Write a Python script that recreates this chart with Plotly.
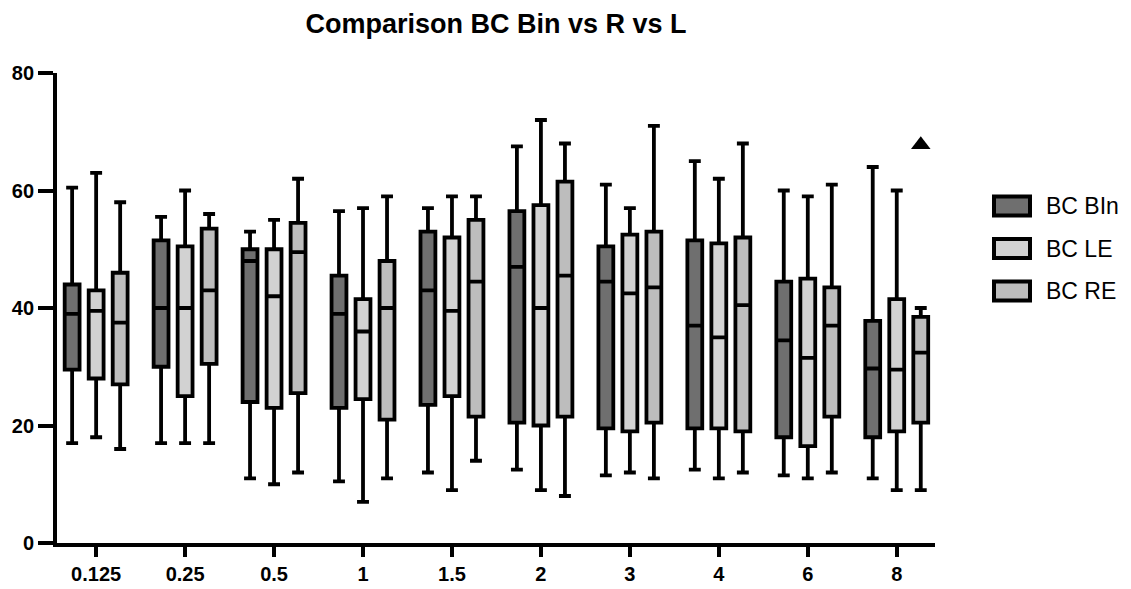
import plotly.graph_objects as go

categories = ["0.125", "0.25", "0.5", "1", "1.5", "2", "3", "4", "6", "8"]

series_names = ["BC BIn", "BC LE", "BC RE"]

bin_low = [17, 17, 11, 10.5, 12, 12.5, 11.5, 12.5, 11.5, 11]
bin_q1 = [29.5, 30, 24, 23, 23.5, 20.5, 19.5, 19.5, 18, 18]
bin_med = [39, 40, 48, 39, 43, 47, 44.5, 37, 34.5, 29.7]
bin_q3 = [44, 51.5, 50, 45.5, 53, 56.5, 50.5, 51.5, 44.5, 37.8]
bin_high = [60.5, 55.5, 53, 56.5, 57, 67.5, 61, 65, 60, 64]

le_low = [18, 17, 10, 7, 9, 9, 12, 11, 11, 9]
le_q1 = [28, 25, 23, 24.5, 25, 20, 19, 19.5, 16.5, 19]
le_med = [39.5, 40, 42, 36, 39.5, 40, 42.5, 35, 31.5, 29.5]
le_q3 = [43, 50.5, 50, 41.5, 52, 57.5, 52.5, 51, 45, 41.5]
le_high = [63, 60, 55, 57, 59, 72, 57, 62, 59, 60]

re_low = [16, 17, 12, 11, 14, 8, 11, 12, 12, 9]
re_q1 = [27, 30.5, 25.5, 21, 21.5, 21.5, 20.5, 19, 21.5, 20.5]
re_med = [37.5, 43, 49.5, 40, 44.5, 45.5, 43.5, 40.5, 37, 32.4]
re_q3 = [46, 53.5, 54.5, 48, 55, 61.5, 53, 52, 43.5, 38.5]
re_high = [58, 56, 62, 59, 59, 68, 71, 68, 61, 40]

# outlier of BC RE
re_outlier_cat = ["8"]
re_outlier_val = [67.8]

colors = ["#6f6f6f", "#d2d2d2", "#bdbdbd"]
FONT = "Liberation Sans, Arial, sans-serif"

# figure geometry (pixels)
W, H = 1123, 581
ML, MR, MT, MB = 49, 196, 65, 46
PW, PH = W - ML - MR, H - MT - MB

fig = go.Figure()
stats = [
    (bin_low, bin_q1, bin_med, bin_q3, bin_high),
    (le_low, le_q1, le_med, le_q3, le_high),
    (re_low, re_q1, re_med, re_q3, re_high),
]
for i, (lo, q1, md, q3, hi) in enumerate(stats):
    fig.add_trace(go.Box(
        name=series_names[i],
        x=categories,
        q1=q1, median=md, q3=q3,
        lowerfence=lo, upperfence=hi,
        fillcolor=colors[i],
        line=dict(color="black", width=3.8),
        whiskerwidth=0.8,
        boxpoints=False,
        offsetgroup=f"g{i}",
        showlegend=False,
    ))

# outlier point, placed in the BC RE slot
fig.add_trace(go.Box(
    name="BC RE outlier",
    x=re_outlier_cat, y=re_outlier_val,
    offsetgroup="g2",
    boxpoints="all", jitter=0, pointpos=0,
    fillcolor="rgba(0,0,0,0)",
    line=dict(color="rgba(0,0,0,0)", width=0),
    marker=dict(symbol="triangle-up", color="black", size=17),
    showlegend=False, hoverinfo="skip",
))

# legend drawn as swatches + labels (pixel layout converted to paper coords)
def px_x(px):
    return (px - ML) / PW

def px_y(py):
    return 1 - (py - MT) / PH

legend_left, legend_sw_w, legend_sw_h = 986, 36, 19
legend_top_center, legend_step = 198, 42.5
for i, name in enumerate(series_names):
    cy = legend_top_center + i * legend_step
    fig.add_shape(type="rect", xref="paper", yref="paper",
                  x0=px_x(legend_left), x1=px_x(legend_left + legend_sw_w),
                  y0=px_y(cy - legend_sw_h / 2), y1=px_y(cy + legend_sw_h / 2),
                  fillcolor=colors[i], line=dict(color="black", width=4))
    fig.add_annotation(xref="paper", yref="paper", x=px_x(legend_left + 50),
                       y=px_y(cy), text=name, showarrow=False,
                       xanchor="left", yanchor="middle",
                       font=dict(size=23, family=FONT, color="black"))

fig.update_layout(
    width=W, height=H,
    paper_bgcolor="white", plot_bgcolor="white",
    boxmode="group", boxgap=0.19, boxgroupgap=0.38,
    margin=dict(l=ML, r=MR, t=MT, b=MB, autoexpand=False),
    font=dict(family=FONT, color="black"),
    title=dict(text="<b>Comparison BC Bin vs R vs L</b>", x=0.5, xref="paper",
               xanchor="center", y=0.974, yref="container", yanchor="middle",
               font=dict(size=27, color="black")),
    showlegend=False,
)
fig.update_xaxes(type="category", range=[-0.44, 9.43],
                 showline=True, linecolor="black", linewidth=3.8,
                 ticks="outside", ticklen=10, tickwidth=3.8, tickcolor="black",
                 tickfont=dict(size=20, family=FONT, weight="bold"),
                 showgrid=False, zeroline=False, automargin=False)
fig.update_yaxes(range=[0, 80], tickvals=[0, 20, 40, 60, 80], showline=True,
                 linecolor="black", linewidth=3.8,
                 ticks="outside", ticklen=15, tickwidth=3.8, tickcolor="black",
                 tickfont=dict(size=20, family=FONT, weight="bold"),
                 showgrid=False, zeroline=False, automargin=False)

fig.write_html("out.html")
